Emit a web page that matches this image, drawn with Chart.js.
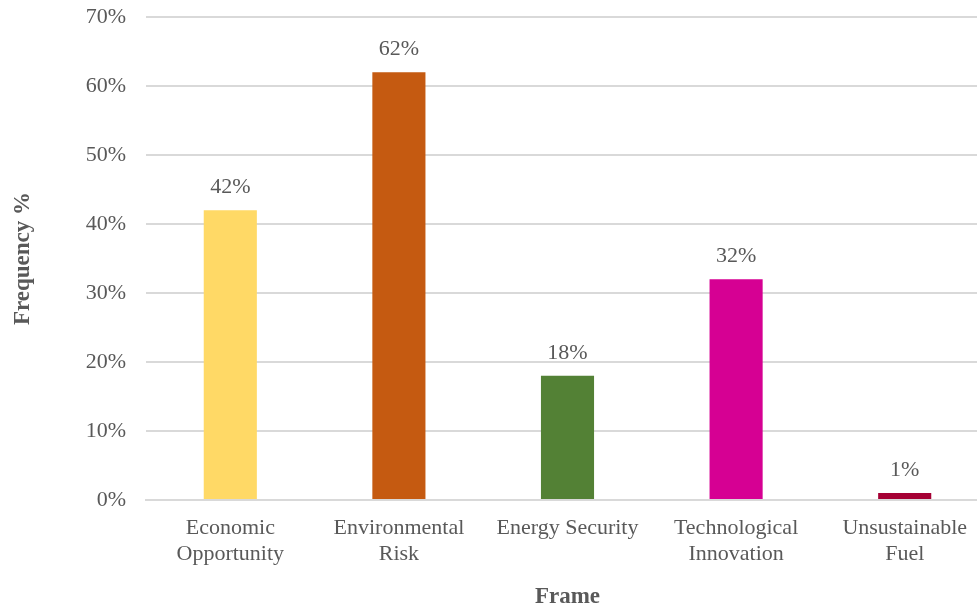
<!DOCTYPE html>
<html>
<head>
<meta charset="utf-8">
<script src="https://cdn.jsdelivr.net/npm/chart.js@4.4.0/dist/chart.umd.min.js"></script>
<style>
  html, body { margin: 0; padding: 0; background: #fff; overflow: hidden; }
  #wrap { width: 989px; height: 607px; }
</style>
</head>
<body>
<div id="wrap"><canvas id="chart"></canvas></div>
<script>
// Frame frequencies
const categories = [
    ['Economic', 'Opportunity'],
    ['Environmental', 'Risk'],
    'Energy Security',
    ['Technological', 'Innovation'],
    ['Unsustainable', 'Fuel']
];
const frequency = [42, 62, 18, 32, 1];
const barColors = ['#FFD966', '#C55A11', '#538135', '#D60093', '#A50034'];

const FONT = "'Liberation Serif', 'DejaVu Serif', serif";
const TEXT = '#595959';

// value labels above each bar
const valueLabels = {
    id: 'valueLabels',
    afterDatasetsDraw(chart) {
        const ctx = chart.ctx;
        const meta = chart.getDatasetMeta(0);
        ctx.save();
        ctx.font = `22px ${FONT}`;
        ctx.fillStyle = TEXT;
        ctx.textAlign = 'center';
        ctx.textBaseline = 'bottom';
        meta.data.forEach((bar, i) => {
            ctx.fillText(frequency[i] + '%', bar.x, bar.y - 12);
        });
        ctx.restore();
    }
};

new Chart(document.getElementById('chart'), {
    type: 'bar',
    data: {
        labels: categories,
        datasets: [{
            data: frequency,
            backgroundColor: barColors,
            barPercentage: 0.315,
            categoryPercentage: 1
        }]
    },
    options: {
        responsive: true,
        maintainAspectRatio: false,
        animation: false,
        layout: { padding: { top: 17, right: 0, bottom: 0, left: 9 } },
        plugins: {
            legend: { display: false },
            tooltip: { enabled: false }
        },
        scales: {
            x: {
                afterFit: s => { s.height = 107; },
                grid: { display: false },
                border: { color: '#D9D9D9', width: 2 },
                ticks: { color: TEXT, font: { family: FONT, size: 22, lineHeight: 1.2 }, padding: 7, maxRotation: 0 },
                title: { display: true, text: 'Frame', color: TEXT, font: { family: FONT, size: 23, weight: 'bold' }, padding: { top: 0, bottom: -4 } }
            },
            y: {
                afterFit: s => { s.width = 137; s.paddingTop = 0; s.paddingBottom = 0; },
                min: 0,
                max: 70,
                ticks: {
                    stepSize: 10,
                    color: TEXT,
                    font: { family: FONT, size: 22 },
                    padding: 20,
                    callback: v => v + '%'
                },
                grid: { color: '#D9D9D9', lineWidth: 2, drawTicks: false },
                border: { display: false },
                title: { display: true, text: 'Frequency %', color: TEXT, font: { family: FONT, size: 23, weight: 'bold' }, padding: 0 }
            }
        }
    },
    plugins: [valueLabels]
});
</script>
</body>
</html>
